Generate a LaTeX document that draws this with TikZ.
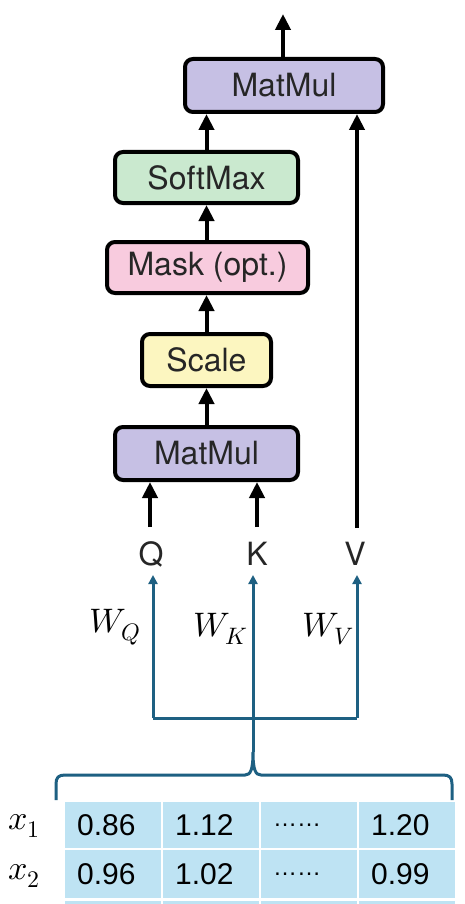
\documentclass[tikz,border=0pt]{standalone}
\usepackage{fontspec}
\usepackage{unicode-math}
\setmainfont{TeX Gyre Heros}
\newfontfamily\numfont{Liberation Sans}
\usetikzlibrary{arrows.meta}
\definecolor{mmcol}{RGB}{198,192,228}
\definecolor{smcol}{RGB}{202,233,207}
\definecolor{mkcol}{RGB}{248,203,222}
\definecolor{sccol}{RGB}{252,246,192}
\definecolor{cellcol}{RGB}{190,227,243}
\definecolor{bluecol}{RGB}{30,96,130}
\definecolor{txtcol}{RGB}{38,38,38}
\tikzset{
  opbox/.style={draw=black, line width=4pt, rounded corners=8pt, inner sep=0pt,
    text=txtcol, font=\fontsize{32}{38}\selectfont},
  blkarr/.style={line width=4pt, -{Triangle[length=16pt,width=15pt]}},
  bline/.style={draw=bluecol, line width=3pt},
  barr/.style={bline, -{Triangle[length=9pt,width=9pt]}},
  inlabel/.style={text=txtcol, font=\fontsize{32}{38}\selectfont, inner sep=0pt},
  wlabel/.style={font=\fontsize{34}{40}\selectfont, inner sep=0pt},
  cell/.style={fill=cellcol, anchor=north west, minimum width=96pt, text width=72pt,
    inner xsep=12pt, inner ysep=0pt, align=left, font=\numfont\fontsize{30}{34}\selectfont},
  dotcell/.style={cell, font=\numfont\fontsize{24}{34}\selectfont},
}
\begin{document}
\begin{tikzpicture}[x=1pt,y=-1pt]
\useasboundingbox (0,0) rectangle (465,904);
\fill[white] (0,0) rectangle (465,904);
\clip (0,0) rectangle (465,904);

% boxes
\node[opbox, fill=mmcol, minimum width=198pt, minimum height=53pt] (mm2) at (284,85.5) {MatMul};
\node[opbox, fill=smcol, minimum width=183pt, minimum height=51pt] (sm) at (206.5,177.5) {SoftMax};
\node[opbox, fill=mkcol, minimum width=201pt, minimum height=51pt] (mask) at (207.5,267.5) {Mask (opt.)};
\node[opbox, fill=sccol, minimum width=129pt, minimum height=52pt] (scale) at (206.5,360) {Scale};
\node[opbox, fill=mmcol, minimum width=183pt, minimum height=53pt] (mm1) at (206.5,453.5) {MatMul};

% inputs
\node[inlabel] (Q) at (151,554) {Q};
\node[inlabel] (K) at (257,554) {K};
\node[inlabel] (V) at (355,554) {V};

\coordinate (out) at (283,14);
\coordinate (qs) at (150,527);
\coordinate (ks) at (257,527);
\coordinate (vs) at (357,528);

% black arrows
\draw[blkarr] (mm2.north -| out) -- (out);
\draw[blkarr] (sm.north) -- (sm.north |- mm2.south);
\draw[blkarr] (mask.north -| sm.north) -- (sm.south);
\draw[blkarr] (scale.north) -- (scale.north |- mask.south);
\draw[blkarr] (mm1.north) -- (mm1.north |- scale.south);
\draw[blkarr] (qs) -- (qs |- mm1.south);
\draw[blkarr] (ks) -- (ks |- mm1.south);
\draw[blkarr] (vs) -- (vs |- mm2.south);

% W labels
\node[wlabel] (wq) at (115,627) {$W_Q$};
\node[wlabel] (wk) at (221,629) {$W_K$};
\node[wlabel] (wv) at (328,629) {$W_V$};

% blue connectors
\coordinate (jq) at (153,718);
\coordinate (jv) at (357,718);
\coordinate (tq) at (153,575);
\coordinate (tk) at (253,575);
\coordinate (tv) at (357,575);
\coordinate (btip) at (253,752);
\draw[bline] (jq) -- (jv);
\draw[barr] (jq) -- (tq);
\draw[barr] (jv) -- (tv);
\draw[barr] (btip) -- (tk);
\draw[bline] (56,800) -- (56,784) .. controls (56,777.5) and (58.5,775) .. (65,775)
  -- (245,775) .. controls (250.5,775) and (253,770) .. (btip)
  .. controls (253,770) and (255.5,775) .. (261,775)
  -- (443,775) .. controls (449.5,775) and (452,777.5) .. (452,784) -- (452,800);

% table
\node[cell, minimum height=46pt] (c11) at (65,802) {0.86};
\node[cell, minimum height=46pt] (c12) at (163,802) {1.12};
\node[dotcell, minimum height=46pt] (c13) at (261,802) {……};
\node[cell, minimum height=46pt, minimum width=95pt] (c14) at (359,802) {1.20};
\node[cell, minimum height=48pt] (c21) at (65,850) {0.96};
\node[cell, minimum height=48pt] (c22) at (163,850) {1.02};
\node[dotcell, minimum height=48pt] (c23) at (261,850) {……};
\node[cell, minimum height=48pt, minimum width=95pt] (c24) at (359,850) {0.99};
\node[cell, minimum height=48pt] (c31) at (65,901) {};
\node[cell, minimum height=48pt] (c32) at (163,901) {};
\node[cell, minimum height=48pt] (c33) at (261,901) {};
\node[cell, minimum height=48pt, minimum width=95pt] (c34) at (359,901) {};

\node[wlabel] (x1) at (24,826) {$x_1$};
\node[wlabel] (x2) at (24,876) {$x_2$};
\end{tikzpicture}
\end{document}
